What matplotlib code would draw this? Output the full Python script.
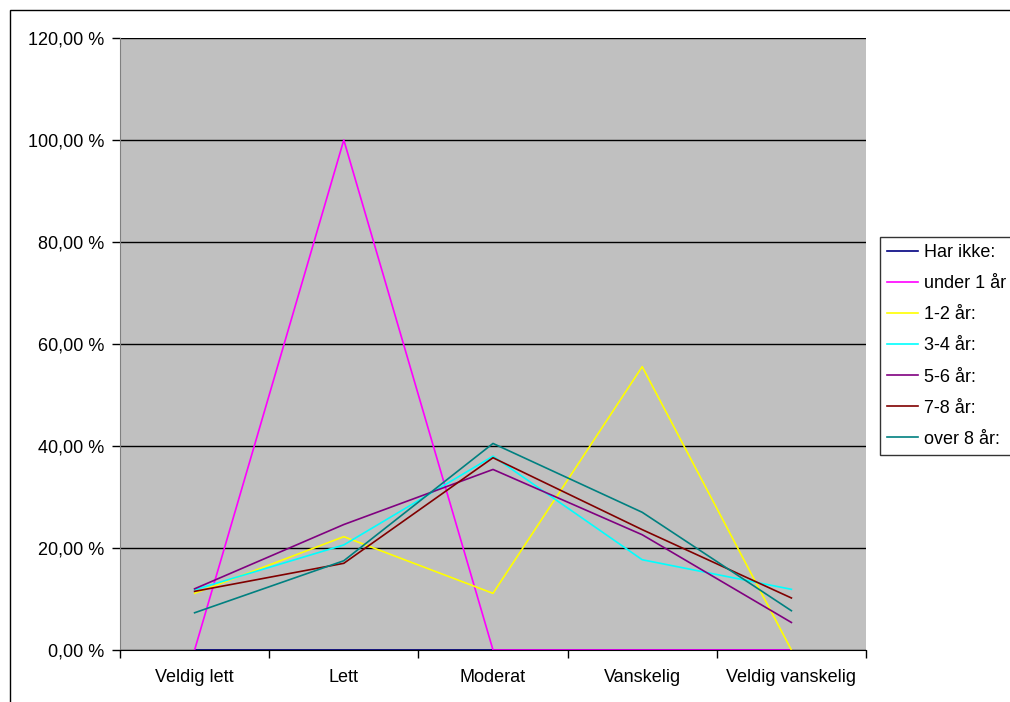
import numpy as np
import matplotlib
matplotlib.use("Agg")
import matplotlib.pyplot as plt
from matplotlib.patches import Rectangle
from matplotlib.ticker import FuncFormatter

plt.rcParams['font.family'] = ['Liberation Sans', 'DejaVu Sans']

# Categories and the share (in %) for each group
categories = ['Veldig lett', 'Lett', 'Moderat', 'Vanskelig', 'Veldig vanskelig']

har_ikke = [0.0, 0.0, 0.0, 0.0, 0.0]
under_1 = [0.0, 100.0, 0.0, 0.0, 0.0]
aar_1_2 = [11.11, 22.22, 11.11, 55.56, 0.0]
aar_3_4 = [11.8, 20.6, 38.0, 17.7, 11.9]
aar_5_6 = [12.0, 24.6, 35.4, 22.6, 5.4]
aar_7_8 = [11.5, 17.0, 37.7, 23.6, 10.2]
over_8 = [7.3, 17.5, 40.5, 27.0, 7.7]

series = [
    ('Har ikke:', har_ikke, '#000080'),
    ('under 1 år', under_1, '#FF00FF'),
    ('1-2 år:', aar_1_2, '#FFFF00'),
    ('3-4 år:', aar_3_4, '#00FFFF'),
    ('5-6 år:', aar_5_6, '#800080'),
    ('7-8 år:', aar_7_8, '#800000'),
    ('over 8 år:', over_8, '#008080'),
]

W, H = 1010, 702
fig = plt.figure(figsize=(W / 100, H / 100), dpi=100)
fig.patch.set_facecolor('white')

# outer chart border
fig.patches.append(Rectangle((10 / W, -0.1), 1.2, 1 - 10 / H + 0.1,
                             transform=fig.transFigure, fill=False,
                             edgecolor='black', linewidth=1.0))

ax = fig.add_axes([120 / W, 52 / H, 746 / W, 612 / H])
ax.set_facecolor('#C0C0C0')

x = np.arange(len(categories))
for name, vals, color in series:
    ax.plot(x, vals, color=color, linewidth=1.2, label=name, clip_on=False)

ax.set_xlim(-0.5, len(categories) - 0.5)
ax.set_ylim(0, 120)
ax.set_yticks(np.arange(0, 121, 20))
ax.yaxis.set_major_formatter(FuncFormatter(lambda v, p: f'{v:.2f} %'.replace('.', ',')))
ax.grid(axis='y', color='black', linewidth=1.0)
ax.set_axisbelow(True)

# category boundaries as ticks, names centred in between
ax.set_xticks(np.arange(-0.5, len(categories), 1.0))
ax.set_xticklabels([])
ax.set_xticks(x, minor=True)
ax.set_xticklabels(categories, minor=True)
ax.tick_params(axis='x', which='major', length=6, width=1, color='black', direction='out')
ax.tick_params(axis='x', which='minor', length=0, pad=14, labelsize=13)
ax.tick_params(axis='y', length=6, width=1, color='black', direction='out', pad=5, labelsize=13)

for side in ['top', 'right']:
    ax.spines[side].set_visible(False)
ax.spines['left'].set_color('#808080')
ax.spines['bottom'].set_color('black')

leg = fig.legend(loc='upper left', bbox_to_anchor=(880 / W, 1 - 237 / H),
                 fontsize=13, frameon=True, fancybox=False, edgecolor='black',
                 handlelength=1.7, handletextpad=0.35, labelspacing=0.78,
                 borderpad=0.4, borderaxespad=0)
leg.get_frame().set_linewidth(1.0)

plt.savefig('out.png', dpi=100)
